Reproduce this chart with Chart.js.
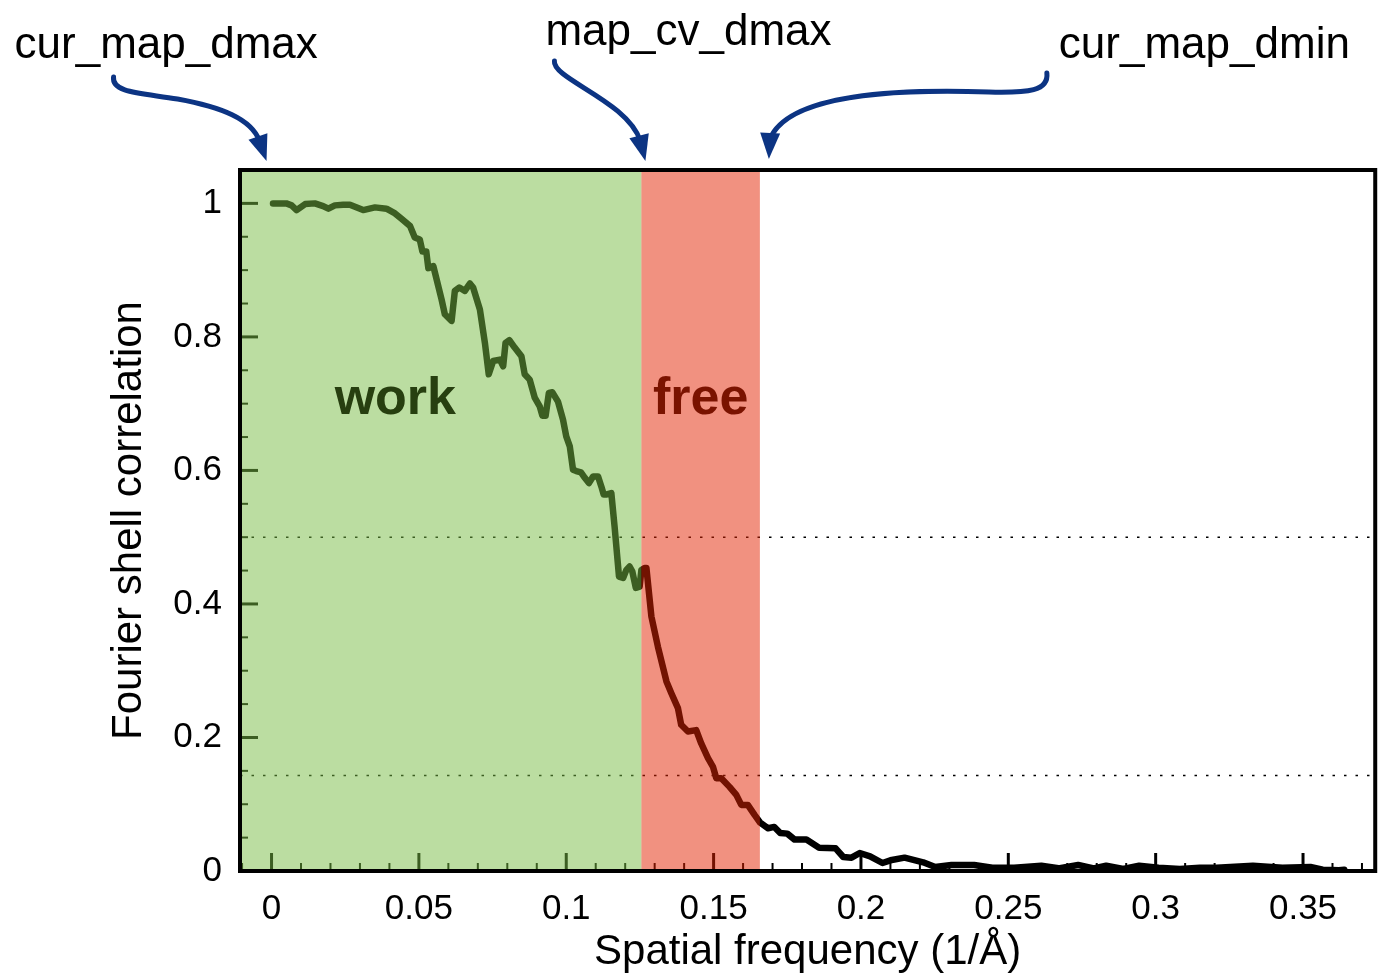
<!DOCTYPE html>
<html>
<head>
<meta charset="utf-8">
<script src="https://cdn.jsdelivr.net/npm/chart.js@4/dist/chart.umd.min.js"></script>
<style>
  body { margin: 0; background: #fff; }
  #wrap { width: 1379px; height: 976px; }
</style>
</head>
<body>
<div id="wrap"><canvas id="fsc" width="1379" height="976"></canvas></div>
<script>
// spatial frequency (1/A) and FSC
const freq = [
    0.0005, 0.005, 0.0068, 0.0085, 0.0114, 0.0147, 0.0175, 0.0193, 0.0215, 0.0243,
    0.0266, 0.0311, 0.0351, 0.039, 0.0419, 0.0441, 0.047, 0.0486, 0.0503, 0.0512,
    0.0525, 0.0532, 0.0549, 0.0577, 0.0588, 0.0611, 0.0622, 0.0637, 0.0656, 0.0673,
    0.0684, 0.0707, 0.0724, 0.0737, 0.0752, 0.0775, 0.0786, 0.0794, 0.0807, 0.0825,
    0.0848, 0.0859, 0.0876, 0.0893, 0.091, 0.0919, 0.093, 0.0941, 0.0953, 0.0972,
    0.0989, 0.1, 0.1012, 0.1023, 0.1034, 0.105, 0.1063, 0.1077, 0.1091, 0.1108,
    0.1119, 0.1127, 0.1138, 0.1153, 0.1164, 0.1179, 0.1193, 0.1204, 0.1215, 0.1224,
    0.1236, 0.1249, 0.1255, 0.1266, 0.1272, 0.1289, 0.1311, 0.134, 0.1357, 0.1379,
    0.139, 0.1413, 0.1441, 0.1458, 0.1481, 0.1498, 0.1509, 0.1526, 0.1554, 0.1577,
    0.1594, 0.1616, 0.1639, 0.1657, 0.1685, 0.1706, 0.1726, 0.175, 0.1775, 0.1815,
    0.1858, 0.1914, 0.194, 0.1968, 0.1996, 0.2031, 0.2073, 0.21, 0.2148, 0.2211,
    0.2252, 0.2307, 0.2384, 0.2446, 0.252, 0.2612, 0.267, 0.2737, 0.279, 0.2832,
    0.289, 0.2944, 0.301, 0.3082, 0.315, 0.3207, 0.333, 0.343, 0.3525, 0.3567,
    0.3622, 0.364
];
const fsc = [
    1.000, 1.000, 0.997, 0.990, 0.999, 1.000, 0.996, 0.992, 0.997, 0.998,
    0.998, 0.990, 0.994, 0.992, 0.985, 0.977, 0.966, 0.949, 0.946, 0.928,
    0.928, 0.903, 0.906, 0.856, 0.834, 0.824, 0.869, 0.874, 0.869, 0.880,
    0.874, 0.841, 0.791, 0.744, 0.764, 0.766, 0.756, 0.791, 0.795, 0.784,
    0.771, 0.744, 0.736, 0.709, 0.696, 0.682, 0.682, 0.716, 0.717, 0.703,
    0.676, 0.651, 0.636, 0.601, 0.599, 0.597, 0.589, 0.581, 0.591, 0.591,
    0.576, 0.564, 0.564, 0.566, 0.516, 0.441, 0.439, 0.451, 0.456, 0.449,
    0.424, 0.426, 0.451, 0.454, 0.454, 0.381, 0.336, 0.284, 0.266, 0.244,
    0.219, 0.209, 0.211, 0.191, 0.169, 0.156, 0.139, 0.139, 0.126, 0.114,
    0.099, 0.099, 0.084, 0.073, 0.064, 0.066, 0.057, 0.056, 0.047, 0.047,
    0.035, 0.034, 0.021, 0.020, 0.027, 0.022, 0.012, 0.016, 0.020, 0.013,
    0.006, 0.009, 0.009, 0.005, 0.005, 0.008, 0.004, 0.009, 0.004, 0.008,
    0.003, 0.008, 0.005, 0.003, 0.005, 0.005, 0.008, 0.005, 0.006, 0.002,
    0.001, 0.002
];

// resolution limits (1/A) and the FSC cutoffs
const curMapDmax = 0.0;
const mapCvDmax = 0.1255;
const curMapDmin = 0.1657;
const cutoffs = [0.5, 0.143];

const xMin = -0.0107, xMax = 0.3745;
const yMin = 0, yMax = 1.05;

const curve = freq.map((f, i) => ({ x: f, y: fsc[i] }));

var datasets = [{
    data: curve,
    borderColor: '#000',
    borderWidth: 6.5,
    pointRadius: 0,
    borderJoinStyle: 'round',
    borderCapStyle: 'round',
    tension: 0
}];
for (let i in cutoffs) {
    datasets.push({
        data: [{ x: xMin, y: cutoffs[i] }, { x: xMax, y: cutoffs[i] }],
        borderColor: '#000',
        borderWidth: 1.5,
        borderDash: [2.5, 9],
        pointRadius: 0
    });
}

function isMajor(v, step) {
    return Math.abs(Math.round(v * 1000) % Math.round(step * 1000)) === 0;
}

function drawArrow(ctx, tip, pts) {
    // pts are offsets from the tip: start, then bezier triples
    ctx.beginPath();
    ctx.moveTo(tip.x + pts[0][0], tip.y + pts[0][1]);
    for (let i = 1; i + 2 < pts.length + 1; i += 3) {
        ctx.bezierCurveTo(tip.x + pts[i][0], tip.y + pts[i][1],
            tip.x + pts[i + 1][0], tip.y + pts[i + 1][1],
            tip.x + pts[i + 2][0], tip.y + pts[i + 2][1]);
    }
    ctx.stroke();
    const last = pts[pts.length - 1];
    const len = Math.hypot(last[0], last[1]);
    const dx = -last[0] / len, dy = -last[1] / len;
    const hl = 26, hw = 10;
    const bx = tip.x - dx * hl, by = tip.y - dy * hl;
    ctx.beginPath();
    ctx.moveTo(tip.x, tip.y);
    ctx.lineTo(bx - dy * hw, by + dx * hw);
    ctx.lineTo(bx + dy * hw, by - dx * hw);
    ctx.closePath();
    ctx.fill();
}

const decor = {
    id: 'decor',
    beforeDatasetsDraw(chart) {
        const ctx = chart.ctx;
        const a = chart.chartArea;
        const xs = chart.scales.x, ys = chart.scales.y;
        ctx.save();
        ctx.strokeStyle = '#000';
        xs.ticks.forEach(t => {
            const major = isMajor(t.value, 0.05);
            const px = xs.getPixelForValue(t.value);
            ctx.lineWidth = major ? 3 : 2;
            ctx.beginPath();
            ctx.moveTo(px, a.bottom);
            ctx.lineTo(px, a.bottom - (major ? 18 : 8));
            ctx.stroke();
        });
        ys.ticks.forEach(t => {
            const major = isMajor(t.value, 0.2);
            const py = ys.getPixelForValue(t.value);
            ctx.lineWidth = major ? 3 : 2;
            ctx.beginPath();
            ctx.moveTo(a.left, py);
            ctx.lineTo(a.left + (major ? 18 : 8), py);
            ctx.stroke();
        });
        ctx.restore();
    },
    afterDatasetsDraw(chart) {
        const ctx = chart.ctx;
        const a = chart.chartArea;
        const xs = chart.scales.x, ys = chart.scales.y;
        const xw = xs.getPixelForValue(mapCvDmax);
        const xf = xs.getPixelForValue(curMapDmin);
        ctx.save();
        ctx.fillStyle = 'rgba(120, 188, 68, 0.5)';
        ctx.fillRect(a.left, a.top, xw - a.left, a.bottom - a.top);
        ctx.fillStyle = 'rgba(228, 36, 2, 0.5)';
        ctx.fillRect(xw, a.top, xf - xw, a.bottom - a.top);

        ctx.font = 'bold 52px "Liberation Sans", Arial, sans-serif';
        ctx.textAlign = 'center';
        ctx.textBaseline = 'middle';
        ctx.fillStyle = '#273f10';
        ctx.fillText('work', xs.getPixelForValue(0.042), ys.getPixelForValue(0.706));
        ctx.fillStyle = '#7a1300';
        ctx.fillText('free', (xw + xf) / 2, ys.getPixelForValue(0.706));
        ctx.restore();
    },
    afterDraw(chart) {
        const ctx = chart.ctx;
        const a = chart.chartArea;
        const xs = chart.scales.x;
        ctx.save();
        ctx.strokeStyle = '#000';
        ctx.lineWidth = 4;
        ctx.strokeRect(a.left, a.top, a.right - a.left, a.bottom - a.top);

        const t1 = { x: xs.getPixelForValue(curMapDmax) - 5, y: a.top - 9 };
        const t2 = { x: xs.getPixelForValue(mapCvDmax) + 4, y: a.top - 9 };
        const t3 = { x: xs.getPixelForValue(curMapDmin) + 9, y: a.top - 11 };

        ctx.strokeStyle = '#0c3483';
        ctx.fillStyle = '#0c3483';
        ctx.lineWidth = 5;
        ctx.lineCap = 'round';
        drawArrow(ctx, t1, [[-153, -84], [-155, -68], [-125, -68], [-89, -62],
            [-45, -54], [-15, -42], [-7, -20]]);
        drawArrow(ctx, t2, [[-91, -100], [-93, -82], [-18, -60], [-5, -20]]);
        drawArrow(ctx, t3, [[278, -86], [280, -68], [260, -66], [220, -67],
            [130, -70], [20, -66], [1, -20]]);

        ctx.fillStyle = '#000';
        ctx.font = '44px "Liberation Sans", Arial, sans-serif';
        ctx.textAlign = 'left';
        ctx.textBaseline = 'alphabetic';
        ctx.fillText('cur_map_dmax', t1.x - 252, t1.y - 103);
        ctx.fillText('map_cv_dmax', t2.x - 100, t2.y - 116);
        ctx.fillText('cur_map_dmin', t3.x + 290, t3.y - 101);
        ctx.restore();
    }
};

new Chart(document.getElementById('fsc'), {
    type: 'line',
    data: { datasets: datasets },
    options: {
        responsive: false,
        animation: false,
        devicePixelRatio: 1,
        layout: { padding: { top: 170, right: 3, left: 0, bottom: 0 } },
        plugins: {
            legend: { display: false },
            tooltip: { enabled: false }
        },
        scales: {
            x: {
                type: 'linear',
                min: xMin,
                max: xMax,
                grid: { display: false, drawTicks: false },
                border: { display: false },
                ticks: {
                    stepSize: 0.01,
                    includeBounds: false,
                    autoSkip: false,
                    maxRotation: 0,
                    padding: 17,
                    color: '#000',
                    font: { size: 35, family: '"Liberation Sans", Arial, sans-serif' },
                    callback: v => isMajor(v, 0.05) ? String(Number(v.toFixed(2))) : ''
                },
                title: {
                    display: true,
                    text: 'Spatial frequency (1/Å)',
                    color: '#000',
                    font: { size: 42, family: '"Liberation Sans", Arial, sans-serif', lineHeight: 1.1 },
                    padding: { top: 0, bottom: 0 }
                },
                afterFit: s => { s.height = 105; }
            },
            y: {
                min: yMin,
                max: yMax,
                grid: { display: false, drawTicks: false },
                border: { display: false },
                ticks: {
                    stepSize: 0.05,
                    includeBounds: false,
                    autoSkip: false,
                    padding: 18,
                    color: '#000',
                    font: { size: 35, family: '"Liberation Sans", Arial, sans-serif' },
                    callback: v => isMajor(v, 0.2) ? String(Number(v.toFixed(2))) : ''
                },
                title: {
                    display: true,
                    text: 'Fourier shell correlation',
                    color: '#000',
                    font: { size: 42, family: '"Liberation Sans", Arial, sans-serif', lineHeight: 1.1 },
                    padding: { top: 106, bottom: 0 }
                },
                afterFit: s => { s.width = 240; }
            }
        }
    },
    plugins: [decor]
});
</script>
</body>
</html>
